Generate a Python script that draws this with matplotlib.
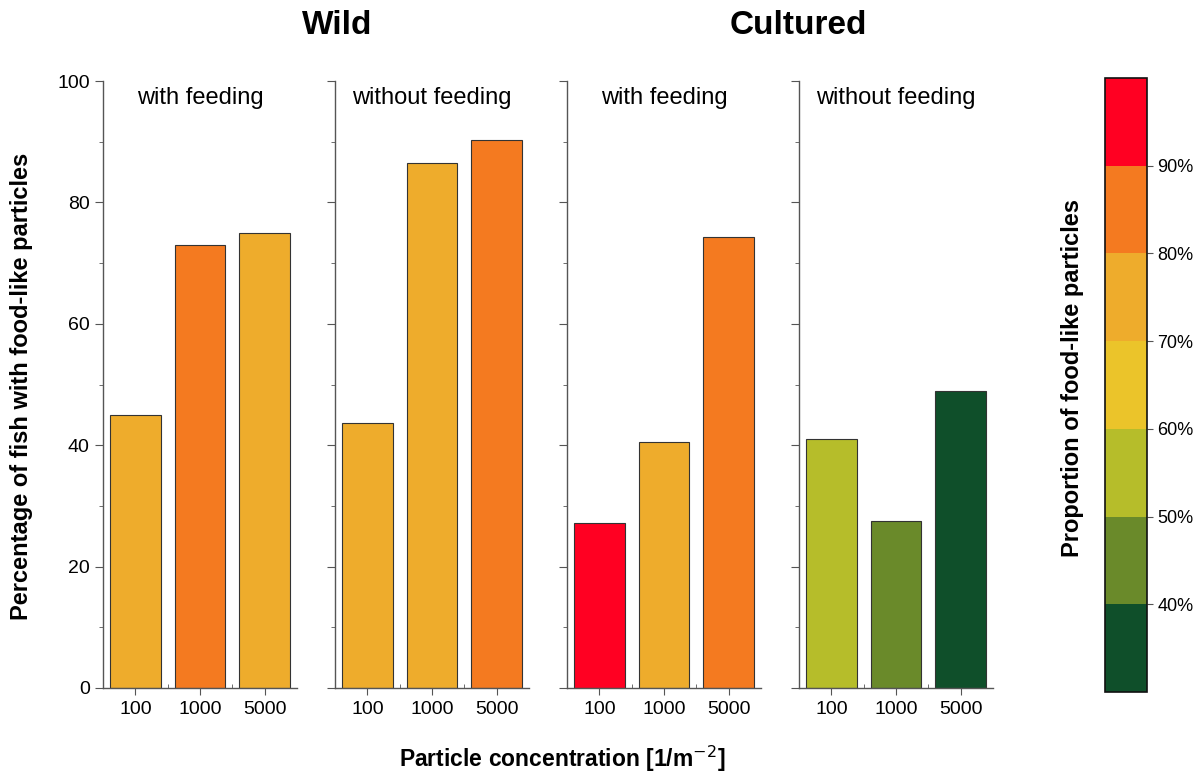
import numpy as np
import matplotlib
matplotlib.use('Agg')
import matplotlib.pyplot as plt
from matplotlib.colors import ListedColormap, BoundaryNorm
from matplotlib.ticker import MultipleLocator, FixedLocator
import matplotlib.colorbar as mcolorbar

plt.rcParams['font.family'] = ['Liberation Sans', 'DejaVu Sans']

# ============ data ============
concentrations = ['100', '1000', '5000']
groups = ['Wild', 'Cultured']
panel_titles = ['with feeding', 'without feeding', 'with feeding', 'without feeding']

# percentage of fish with food-like particles, one row per panel
percent_fish = [
    [45.0, 73.0, 75.0],   # wild, with feeding
    [43.7, 86.5, 90.3],   # wild, without feeding
    [27.2, 40.5, 74.3],   # cultured, with feeding
    [41.0, 27.5, 49.0],   # cultured, without feeding
]
# proportion of food-like particles (%), category
proportion = [
    [75, 85, 75],
    [75, 75, 85],
    [95, 75, 85],
    [55, 45, 35],
]

cbar_bounds = [30, 40, 50, 60, 70, 80, 90, 100]
cbar_colors = ['#0f4f2a', '#6a8a2a', '#b6bd2a', '#ebc42a', '#eeac2c', '#f47a20', '#ff0022']
cbar_ticks = [40, 50, 60, 70, 80, 90]

cmap = ListedColormap(cbar_colors)
norm = BoundaryNorm(cbar_bounds, cmap.N)

SPINE = '#555555'

fig = plt.figure(figsize=(11.99, 7.73), dpi=100)

ax_left0 = 103 / 1199
ax_w = 194 / 1199
ax_step = 232 / 1199
ax_bottom = 1 - 688 / 773
ax_h = (688 - 81) / 773

x = np.arange(1, len(concentrations) + 1)
for i in range(4):
    ax = fig.add_axes([ax_left0 + i * ax_step, ax_bottom, ax_w, ax_h])
    cols = [cmap(norm(p)) for p in proportion[i]]
    ax.bar(x, percent_fish[i], width=0.78, color=cols, edgecolor='#333333', linewidth=0.8)
    ax.set_xlim(0.5, 3.5)
    ax.set_ylim(0, 100)
    for s in ['top', 'right']:
        ax.spines[s].set_visible(False)
    for s in ['left', 'bottom']:
        ax.spines[s].set_color(SPINE)
        ax.spines[s].set_linewidth(1.0)
    ax.set_xticks(x)
    ax.set_xticklabels(concentrations, fontsize=14)
    ax.xaxis.set_minor_locator(FixedLocator([1.5, 2.5]))
    ax.yaxis.set_major_locator(MultipleLocator(20))
    ax.yaxis.set_minor_locator(MultipleLocator(10))
    ax.tick_params(axis='x', which='major', direction='out', length=5, color=SPINE, pad=4)
    ax.tick_params(axis='x', which='minor', direction='in', length=3, color=SPINE)
    ax.tick_params(axis='y', which='major', direction='out', length=6, color=SPINE, labelsize=14)
    ax.tick_params(axis='y', which='minor', direction='out', length=3, color=SPINE)
    if i > 0:
        ax.tick_params(axis='y', labelleft=False)
    ax.text(0.5, (688 - 98) / 607, panel_titles[i], transform=ax.transAxes,
            ha='center', va='center', fontsize=17)

fig.text(22 / 1199, 1 - 386 / 773, 'Percentage of fish with food-like particles',
         rotation=90, ha='center', va='center', fontsize=17, fontweight='bold')
fig.text(337 / 1199, 1 - 25 / 773, groups[0], ha='center', va='center',
         fontsize=24, fontweight='bold')
fig.text(798 / 1199, 1 - 25 / 773, groups[1], ha='center', va='center',
         fontsize=24, fontweight='bold')
fig.text(562 / 1199, 1 - 759 / 773, 'Particle concentration [1/m$^{-2}$]',
         ha='center', va='center', fontsize=16.5, fontweight='bold')

# colour bar
cax = fig.add_axes([1105 / 1199, 1 - 692 / 773, 42 / 1199, 614 / 773])
cb = mcolorbar.ColorbarBase(cax, cmap=cmap, norm=norm, boundaries=cbar_bounds,
                            ticks=cbar_ticks, orientation='vertical')
cb.set_ticklabels([f'{t}%' for t in cbar_ticks])
cb.outline.set_edgecolor('#111111')
cb.outline.set_linewidth(1.2)
cax.minorticks_off()
cax.tick_params(labelsize=13, length=4, color=SPINE)
cax.yaxis.set_ticks_position('right')
fig.text(1072 / 1199, 1 - 378 / 773, 'Proportion of food-like particles', rotation=90,
         ha='center', va='center', fontsize=17, fontweight='bold')

fig.savefig('out.png', dpi=100)
